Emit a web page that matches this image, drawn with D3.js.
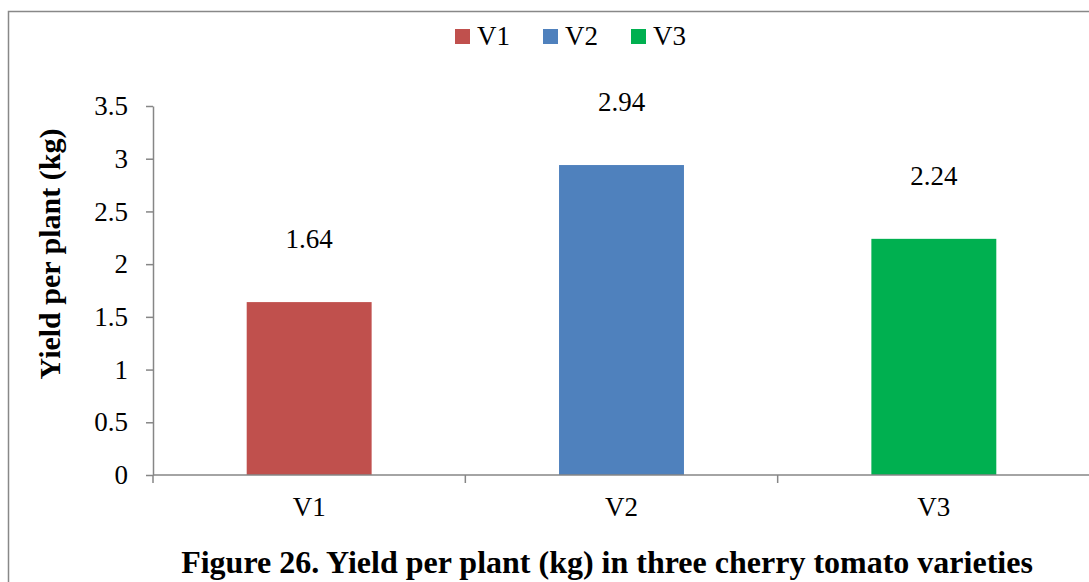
<!DOCTYPE html>
<html><head><meta charset="utf-8">
<script src="https://cdn.jsdelivr.net/npm/d3@7"></script>
<style>html,body{margin:0;padding:0;background:#fff;}svg{display:block;}</style>
</head><body>
<script>
const categories = ["V1", "V2", "V3"];
const values = [1.64, 2.94, 2.24];
const colors = ["#C0504D", "#4F81BD", "#00B050"];
const yTicks = [0, 0.5, 1, 1.5, 2, 2.5, 3, 3.5];
const yLabel = "Yield per plant (kg)";
const title = "Figure 26. Yield per plant (kg) in three cherry tomato varieties";

const W = 1089, H = 582;
const font = "Liberation Serif, Times New Roman, serif";
const svg = d3.select("body").append("svg").attr("width", W).attr("height", H)
  .style("font-family", font);

// outer border
svg.append("rect").attr("x", 8.5).attr("y", 11.5).attr("width", 1200).attr("height", 700)
  .attr("fill", "none").attr("stroke", "#888").attr("stroke-width", 1.5);

const x0 = 153, x1 = 1090, yTop = 106, yBot = 475;
const x = d3.scaleBand().domain(categories).range([x0, x1]).paddingInner(0.6).paddingOuter(0.3);
const y = d3.scaleLinear().domain([0, 3.5]).range([yBot, yTop]);

// y axis
const yAxis = svg.append("g").attr("transform", `translate(${x0},0)`)
  .call(d3.axisLeft(y).tickValues(yTicks).tickFormat(d => d3.format("")(d)).tickSize(7).tickSizeOuter(0).tickPadding(18));
yAxis.attr("font-family", font);
yAxis.select(".domain").attr("stroke", "#868686").attr("stroke-width", 1.5);
yAxis.selectAll(".tick line").attr("stroke", "#868686").attr("stroke-width", 1.5);
yAxis.selectAll("text").attr("font-family", font).attr("font-size", 27).attr("fill", "#000");

// bars
svg.selectAll("rect.bar").data(values).join("rect").attr("class", "bar")
  .attr("x", (d, i) => x(categories[i]))
  .attr("y", d => y(d))
  .attr("width", x.bandwidth())
  .attr("height", d => yBot - y(d))
  .attr("fill", (d, i) => colors[i]);

// x axis
const step = (x1 - x0) / categories.length;
const xAxis = svg.append("g").attr("transform", `translate(0,${yBot})`)
  .call(d3.axisBottom(x).tickSize(0).tickPadding(22));
xAxis.attr("font-family", font);
xAxis.select(".domain").attr("stroke", "#868686").attr("stroke-width", 1.5).attr("d", `M${x0},0H${x1}`);
xAxis.selectAll("text").attr("font-family", font).attr("font-size", 27).attr("fill", "#000");
const bounds = d3.range(categories.length + 1).map(i => x0 + i * step);
xAxis.selectAll("line.bt").data(bounds).join("line").attr("class", "bt")
  .attr("x1", d => d).attr("x2", d => d).attr("y1", 0).attr("y2", 8)
  .attr("stroke", "#868686").attr("stroke-width", 1.5);

// data labels
svg.selectAll("text.dl").data(values).join("text").attr("class", "dl")
  .attr("x", (d, i) => x(categories[i]) + x.bandwidth() / 2)
  .attr("y", d => y(d) - 54)
  .attr("text-anchor", "middle").attr("font-family", font).attr("font-size", 27).attr("fill", "#000")
  .text(d => d.toFixed(2));

// legend
const leg = svg.append("g");
const legX = [455, 543, 631];
categories.forEach((c, i) => {
  leg.append("rect").attr("x", legX[i]).attr("y", 29).attr("width", 15).attr("height", 15).attr("fill", colors[i]);
  leg.append("text").attr("x", legX[i] + 22).attr("y", 45).attr("font-family", font).attr("font-size", 27).text(c);
});

// y label
svg.append("text").attr("transform", `translate(60,254) rotate(-90)`)
  .attr("text-anchor", "middle").attr("font-family", font).attr("font-size", 30).attr("font-weight", "bold")
  .text(yLabel);

// title
svg.append("text").attr("x", 607).attr("y", 573).attr("text-anchor", "middle")
  .attr("font-family", font).attr("font-size", 32).attr("font-weight", "bold").text(title);
</script>
</body></html>
